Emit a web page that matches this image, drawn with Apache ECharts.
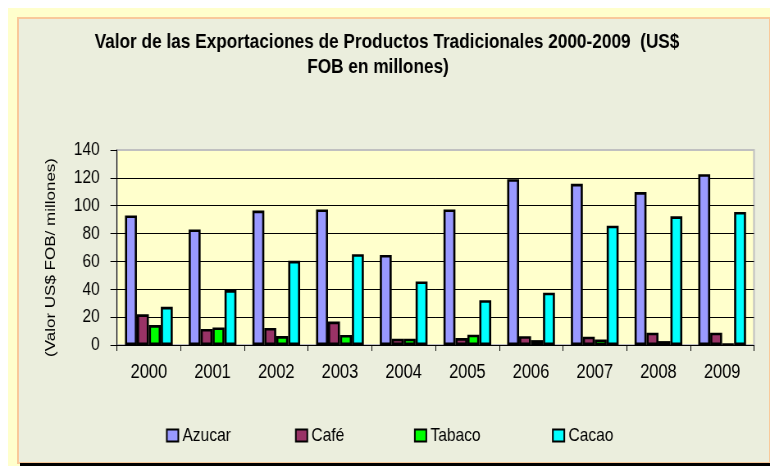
<!DOCTYPE html>
<html>
<head>
<meta charset="utf-8">
<script src="https://cdn.jsdelivr.net/npm/echarts@6/dist/echarts.min.js"></script>
<style>
html,body{margin:0;padding:0;background:#fff;}
#wrap{position:relative;width:770px;height:466px;overflow:hidden;background:#fff;}
#yel{position:absolute;left:8px;top:8px;width:762px;height:458px;background:#FFFFCC;}
#panel{position:absolute;left:17px;top:17px;width:750px;height:443px;background:#EBEEDD;border:2px solid #F9C99A;}
#blk{position:absolute;left:20px;top:463px;width:750px;height:3px;background:#000;}
#chart{position:absolute;left:0;top:0;width:939px;height:466px;transform:scaleX(0.82);transform-origin:0 0;}
</style>
</head>
<body>
<div id="wrap">
<div id="yel"></div>
<div id="panel"></div>
<div id="blk"></div>
<div id="chart"></div>
</div>
<script>
var categories = ['2000','2001','2002','2003','2004','2005','2006','2007','2008','2009'];
var azucar = [93, 83, 96.5, 97.3, 64.7, 97.3, 119, 115.7, 109.8, 122.6];
var cafe   = [22, 11.5, 12.2, 16.8, 4.5, 5, 6.3, 6, 8.8, 8.8];
var tabaco = [14.3, 12.6, 6.4, 7.2, 4.5, 7.4, 3.5, 4, 2.8, 0.5];
var cacao  = [27.4, 39.4, 60.4, 65.2, 45.6, 32.2, 37.5, 85.7, 92.4, 95.5];
var seriesNames = ['Azucar','Café','Tabaco','Cacao'];
var seriesColors = ['#9999FF','#993366','#00FF00','#00FFFF'];
var titleLine1 = 'Valor de las Exportaciones de Productos Tradicionales 2000-2009  (US$';
var titleLine2 = 'FOB en millones)';
var yAxisName = '(Valor US$ FOB/ millones)';

// The chart is drawn in a horizontally stretched space and compressed by CSS (scaleX 0.82)
var SX = 0.82;
function X(px){ return px / SX; }
var FONT = "'Liberation Sans', Arial, sans-serif";
var seriesData = [azucar, cafe, tabaco, cacao];
var legendLefts = [166, 295, 414, 552];

var chart = echarts.init(document.getElementById('chart'), null, {renderer:'canvas'});
var option = {
  backgroundColor: 'transparent',
  animation: false,
  title: [
    {text: titleLine1, left: X(387), top: 32, textAlign: 'center', padding: 0,
     textStyle: {fontFamily: FONT, fontSize: 21, fontWeight: 'bold', color: '#000'}},
    {text: titleLine2, left: X(378), top: 57, textAlign: 'center', padding: 0,
     textStyle: {fontFamily: FONT, fontSize: 21, fontWeight: 'bold', color: '#000'}}
  ],
  legend: seriesNames.map(function(n, i){
    return {
      data: [n], left: X(legendLefts[i]), top: 426, padding: 0,
      itemWidth: 14, itemHeight: 12, icon: 'rect',
      itemStyle: {borderColor: '#000', borderWidth: 2},
      textStyle: {fontFamily: FONT, fontSize: 19, color: '#000'}
    };
  }),
  grid: {left: X(117), right: X(16), top: 150, bottom: 121, show: true,
         backgroundColor: '#FFFFCC', borderColor: '#C0C0C0', borderWidth: 2},
  xAxis: {
    type: 'category', data: categories,
    axisLine: {lineStyle: {color: '#000', width: 1}},
    axisTick: {show: true, length: 6, lineStyle: {color: '#000'}},
    axisLabel: {fontFamily: FONT, fontSize: 20, color: '#000', margin: 17}
  },
  yAxis: {
    type: 'value', min: 0, max: 140, interval: 20,
    name: yAxisName, nameLocation: 'middle', nameRotate: 90, nameGap: 72,
    nameTextStyle: {fontFamily: FONT, fontSize: 17, color: '#000', padding: [0, 20, 0, 0]},
    axisLine: {show: true, lineStyle: {color: '#000', width: 1}},
    axisTick: {show: true, length: 8, lineStyle: {color: '#000'}},
    axisLabel: {fontFamily: FONT, fontSize: 19, color: '#000', margin: 21},
    splitLine: {show: true, lineStyle: {color: ['#000','#000','#000','#000','#000','#000','#000','#C0C0C0'], width: 1}}
  },
  series: seriesNames.map(function(n, i){
    return {
      name: n, type: 'bar', data: seriesData[i],
      barGap: '0%', barCategoryGap: '25%',
      itemStyle: {color: seriesColors[i], borderColor: '#000', borderWidth: 2.6}
    };
  })
};
chart.setOption(option);
</script>
</body>
</html>
